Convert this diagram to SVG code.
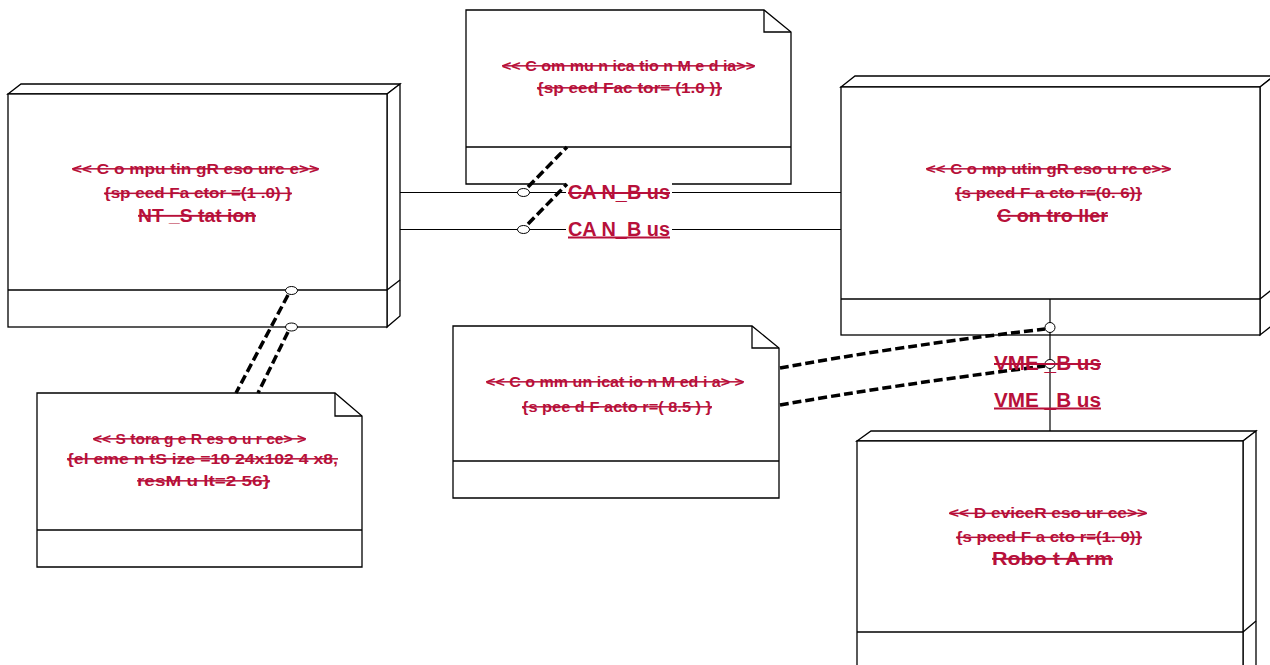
<svg xmlns="http://www.w3.org/2000/svg" width="1270" height="665" viewBox="0 0 1270 665">
<style>
.f{fill:#fff;stroke:#000;stroke-width:1.3}
.l{fill:none;stroke:#000;stroke-width:1.3}
.c{fill:none;stroke:#000;stroke-width:1.2}
.d{fill:none;stroke:#000;stroke-width:3.5;stroke-dasharray:9 4}
.p{fill:#fff;stroke:#000;stroke-width:1}
text{font-family:"Liberation Sans",Arial,sans-serif;font-weight:bold;fill:#b7103a}
.s{font-size:15px;text-decoration:line-through}
.n{font-size:19px;text-decoration:line-through}
.u{font-size:20px;text-decoration:underline}
.t{font-size:20px;text-decoration:line-through}
</style>
<rect width="1270" height="665" fill="#fff"/>
<g id="node-nt-station">
<polygon class="f" points="8,94 21,84 400,84 387,94"/>
<polygon class="f" points="387,94 400,84 400,316 387,327"/>
<rect class="f" x="8" y="94" width="379" height="233"/>
<line class="l" x1="8" y1="290" x2="387" y2="290"/>
<line class="l" x1="387" y1="290" x2="400" y2="280"/>
<text class="s" x="72" y="173.5" textLength="247" lengthAdjust="spacingAndGlyphs">&lt;&lt; C o mpu tin gR eso urc e&gt;&gt;</text>
<text class="s" x="104" y="198" textLength="188" lengthAdjust="spacingAndGlyphs">{sp eed Fa ctor =(1 .0) }</text>
<text class="n" x="138" y="221.5" textLength="118" lengthAdjust="spacingAndGlyphs">NT _S tat ion</text>
</g>
<g id="node-controller">
<polygon class="f" points="841,87 855,76 1274,76 1260,87"/>
<polygon class="f" points="1260,87 1274,76 1274,324 1260,335"/>
<rect class="f" x="841" y="87" width="419" height="248"/>
<line class="l" x1="841" y1="299" x2="1260" y2="299"/>
<line class="l" x1="1260" y1="299" x2="1274" y2="288"/>
<text class="s" x="926" y="173.5" textLength="245" lengthAdjust="spacingAndGlyphs">&lt;&lt; C o mp utin gR eso u rc e&gt;&gt;</text>
<text class="s" x="955" y="198" textLength="187" lengthAdjust="spacingAndGlyphs">{s peed F a cto r=(0. 6)}</text>
<text class="n" x="997" y="221.5" textLength="111" lengthAdjust="spacingAndGlyphs">C on tro ller</text>
</g>
<g id="node-robot-arm">
<polygon class="f" points="857,441 871,431 1256,431 1243,441"/>
<polygon class="f" points="1243,441 1256,431 1256,670 1243,680"/>
<rect class="f" x="857" y="441" width="386" height="240"/>
<line class="l" x1="857" y1="632" x2="1243" y2="632"/>
<line class="l" x1="1243" y1="632" x2="1256" y2="621"/>
<text class="s" x="949" y="518" textLength="198" lengthAdjust="spacingAndGlyphs">&lt;&lt; D eviceR eso ur ce&gt;&gt;</text>
<text class="s" x="956" y="542" textLength="186" lengthAdjust="spacingAndGlyphs">{s peed F a cto r=(1. 0)}</text>
<text class="n" x="992" y="564.5" textLength="121" lengthAdjust="spacingAndGlyphs">Robo t A rm</text>
</g>
<g id="note-can-media">
<polygon class="f" points="466,10 764,10 791,32 791,184 466,184"/>
<polyline class="l" points="764,10 764,32 791,32"/>
<line class="l" x1="466" y1="147" x2="791" y2="147"/>
<text class="s" x="502" y="70.5" textLength="253" lengthAdjust="spacingAndGlyphs">&lt;&lt; C om mu n ica tio n M e d ia&gt;&gt;</text>
<text class="s" x="537" y="92.5" textLength="185" lengthAdjust="spacingAndGlyphs">{sp eed Fac tor= (1.0 )}</text>
</g>
<g id="note-vme-media">
<polygon class="f" points="453,326 752,326 779,348 779,498 453,498"/>
<polyline class="l" points="752,326 752,348 779,348"/>
<line class="l" x1="453" y1="461" x2="779" y2="461"/>
<text class="s" x="486" y="386.5" textLength="258" lengthAdjust="spacingAndGlyphs">&lt;&lt; C o mm un icat io n M ed i a&gt; &gt;</text>
<text class="s" x="522" y="411.5" textLength="190" lengthAdjust="spacingAndGlyphs">{s pee d F acto r=( 8.5 ) }</text>
</g>
<g id="note-storage">
<polygon class="f" points="37,393 335,393 362,416 362,567 37,567"/>
<polyline class="l" points="335,393 335,416 362,416"/>
<line class="l" x1="37" y1="530" x2="362" y2="530"/>
<text class="s" x="93" y="443.5" textLength="213" lengthAdjust="spacingAndGlyphs">&lt;&lt; S tora g e R es o u r ce&gt; &gt;</text>
<text class="s" x="67" y="463.5" textLength="271" lengthAdjust="spacingAndGlyphs">{el eme n tS ize =10 24x102 4 x8,</text>
<text class="s" x="137" y="485.5" textLength="133" lengthAdjust="spacingAndGlyphs">resM u lt=2 56}</text>
</g>
<g id="connectors">
<line class="c" x1="400" y1="192.5" x2="841" y2="192.5"/>
<line class="c" x1="400" y1="229.5" x2="841" y2="229.5"/>
<rect x="566" y="183" width="106" height="19" fill="#fff"/>
<rect x="566" y="220" width="106" height="21" fill="#fff"/>
<line class="c" x1="1050" y1="299" x2="1050" y2="431"/>
<line class="d" x1="528" y1="187" x2="567" y2="147"/>
<line class="d" x1="528" y1="224" x2="567" y2="184"/>
<line class="d" x1="288" y1="295" x2="236" y2="393"/>
<line class="d" x1="288" y1="332" x2="258" y2="393"/>
<path class="d" d="M780,368 Q900,346 1045,329"/>
<path class="d" d="M780,405 Q900,384 1045,366"/>
<ellipse class="p" cx="523.5" cy="192.5" rx="6" ry="4"/>
<ellipse class="p" cx="523.5" cy="229.5" rx="6" ry="4"/>
<ellipse class="p" cx="291.5" cy="290.5" rx="6" ry="4"/>
<ellipse class="p" cx="291.5" cy="327" rx="6" ry="4"/>
<ellipse class="p" cx="1050" cy="327.5" rx="5" ry="5"/>
<ellipse class="p" cx="1050" cy="364" rx="5" ry="4.5"/>
<text class="t" x="568" y="199" textLength="102" lengthAdjust="spacingAndGlyphs">CA N_B us</text>
<text class="u" x="568" y="235.5" textLength="102" lengthAdjust="spacingAndGlyphs">CA N_B us</text>
<text class="t" x="994" y="370" textLength="107" lengthAdjust="spacingAndGlyphs">VME _B us</text>
<text class="u" x="994" y="406.5" textLength="107" lengthAdjust="spacingAndGlyphs">VME _B us</text>
</g>
</svg>
